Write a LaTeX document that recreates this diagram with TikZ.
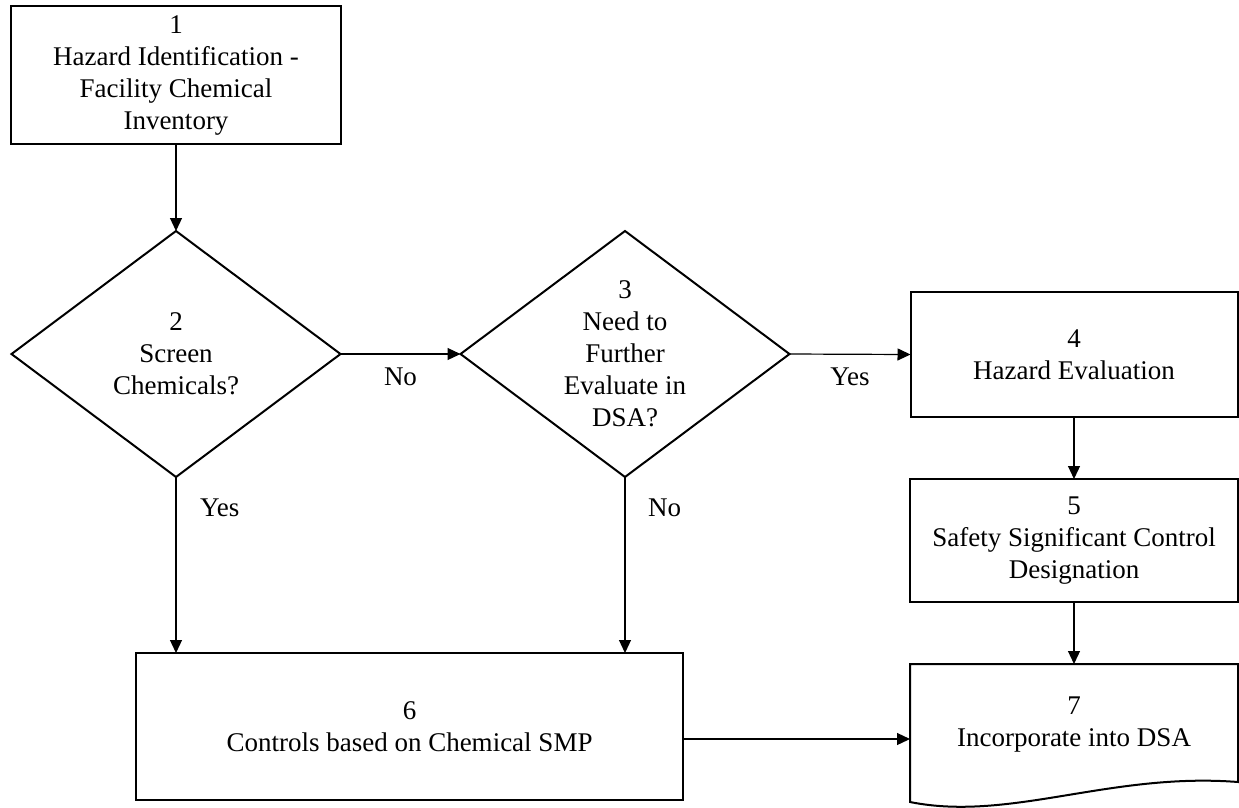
\documentclass[tikz,border=0pt]{standalone}
\usepackage{fontspec}
\setmainfont{Liberation Serif}
\usetikzlibrary{shapes.geometric,arrows.meta}
\begin{document}
\begin{tikzpicture}[x=1pt,y=-1pt,
  every node/.style={font=\fontsize{27}{32}\selectfont, align=center, inner sep=0pt, outer sep=0pt},
  procbox/.style={draw, line width=2pt, rectangle},
  decision/.style={draw, line width=2pt, diamond, inner xsep=-6pt, inner ysep=-12pt, minimum width=329pt, minimum height=246pt},
  arr/.style={line width=1.2pt, -{Triangle[length=13pt,width=12pt]}},
  edgelbl/.style={inner sep=0pt}]
\useasboundingbox (0,0) rectangle (1239,807);

\node[procbox, minimum width=330pt, minimum height=138pt] (n1) at (176,75)
  {1\\Hazard Identification -\\Facility Chemical\\Inventory};
\node[decision] (n2) at (176,354) {2\\Screen\\Chemicals?};
\node[decision] (n3) at (625,354) {3\\Need to\\Further\\Evaluate in\\DSA?};
\node[procbox, minimum width=327pt, minimum height=125pt] (n4) at (1074,354.5)
  {4\\Hazard Evaluation};
\node[procbox, minimum width=328pt, minimum height=123pt] (n5) at (1074,540.5)
  {5\\Safety Significant Control\\Designation};
\node[procbox, minimum width=547pt, minimum height=147pt] (n6) at (409.5,726.5)
  {6\\Controls based on Chemical SMP};
\node[minimum width=328pt, minimum height=122pt] (n7) at (1074,725)
  {7\\Incorporate into DSA};
% document outline of step 7
\draw[line width=2pt, line join=miter] (n7.north west) -- (n7.north east) -- (1238,782)
  .. controls (1110,772) and (1010,822) .. (910,802) -- cycle;

\draw[arr] (n1.south) -- (n2.north);
\draw[arr] (n2.east) -- node[edgelbl, below=14pt] (lno1) {No} (n3.west);
\draw[arr] (n3.east) -- node[edgelbl, below=14pt] (lyes1) {Yes} (n4.west);
\draw[arr] (n4.south) -- (n5.north);
\draw[arr] (n5.south) -- (n7.north);
\draw[arr] (n2.south) -- node[edgelbl, pos=0.176, right=24pt] (lyes2) {Yes} (n2.south |- n6.north);
\draw[arr] (n3.south) -- node[edgelbl, pos=0.176, right=23pt] (lno2) {No} (n3.south |- n6.north);
\draw[arr] ([yshift=-12.5pt]n6.east) -- ([yshift=-12.5pt]n6.east -| n7.west);
\end{tikzpicture}
\end{document}
